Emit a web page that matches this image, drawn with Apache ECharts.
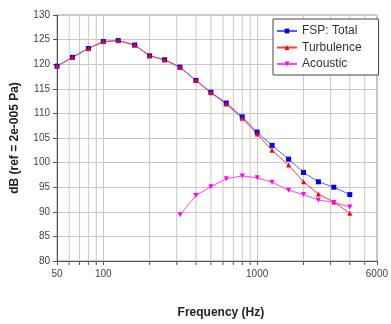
<!DOCTYPE html>
<html>
<head>
<meta charset="utf-8">
<script src="https://cdn.jsdelivr.net/npm/echarts@6/dist/echarts.min.js"></script>
<style>
html,body{margin:0;padding:0;background:#fff;}
#chart{width:391px;height:324px;}
</style>
</head>
<body>
<div id="chart"></div>
<script>
var freqs = [50, 63, 80, 100, 125, 160, 200, 250, 315, 400, 500, 630, 800, 1000, 1250, 1600, 2000, 2500, 3150, 4000];
var total = [119.6, 121.4, 123.2, 124.6, 124.8, 123.9, 121.7, 120.9, 119.4, 116.7, 114.3, 112.1, 109.3, 106.2, 103.5, 100.7, 98.0, 96.1, 95.0, 93.5];
var turbulence = [119.6, 121.4, 123.2, 124.6, 124.8, 123.9, 121.7, 120.9, 119.4, 116.7, 114.2, 111.9, 109.0, 105.8, 102.5, 99.5, 96.1, 93.6, 92.0, 89.7];
var acousticFreqs = [315, 400, 500, 630, 800, 1000, 1250, 1600, 2000, 2500, 3150, 4000];
var acoustic = [89.4, 93.3, 95.1, 96.7, 97.3, 96.9, 96.0, 94.4, 93.5, 92.4, 91.9, 91.0];
var minorGridFreqs = [60, 70, 80, 90, 200, 300, 400, 500, 600, 700, 800, 900, 2000, 3000, 4000, 5000];
var yMin = 80, yMax = 130;

function pairs(xs, ys) { return xs.map(function (x, i) { return [x, ys[i]]; }); }

var chart = echarts.init(document.getElementById('chart'), null, {renderer: 'canvas'});
chart.setOption({
  animation: false,
  backgroundColor: '#fff',
  grid: {left: 57, right: 8, top: 15, bottom: 60, show: true, borderColor: '#a0a0a0', borderWidth: 1, backgroundColor: 'transparent'},
  legend: {
    data: ['FSP: Total', 'Turbulence', 'Acoustic'],
    orient: 'vertical', left: 273, top: 19,
    padding: [6, 17, 5, 3], itemGap: 4.5, itemWidth: 20, itemHeight: 6,
    backgroundColor: '#fff', borderColor: '#444', borderWidth: 1,
    textStyle: {fontFamily: 'Liberation Sans, Arial, sans-serif', fontSize: 12, color: '#333', lineHeight: 12}
  },
  xAxis: {
    type: 'log', logBase: 10, min: 50, max: 6000, splitNumber: 2,
    name: 'Frequency (Hz)', nameLocation: 'middle', nameGap: 46,
    nameTextStyle: {fontFamily: 'Liberation Sans, Arial, sans-serif', fontSize: 12, fontWeight: 'bold', color: '#222', padding: [0, 0, 0, 8]},
    axisLine: {show: true, lineStyle: {color: '#555', width: 1}},
    axisTick: {show: true, inside: false, length: 4, lineStyle: {color: '#555'}},
    axisLabel: {fontFamily: 'Liberation Sans, Arial, sans-serif', fontSize: 10, color: '#444', margin: 8, showMinLabel: true, showMaxLabel: true,
      formatter: function (v) { return String(Math.round(v)); }},
    splitLine: {show: true, lineStyle: {color: '#c8c8c8', width: 1}},
    minorTick: {show: false}, minorSplitLine: {show: false}
  },
  yAxis: {
    type: 'value', min: yMin, max: yMax, interval: 5,
    name: 'dB (ref = 2e-005 Pa)', nameLocation: 'middle', nameGap: 36,
    nameTextStyle: {fontFamily: 'Liberation Sans, Arial, sans-serif', fontSize: 12, fontWeight: 'bold', color: '#222'},
    axisLine: {show: true, lineStyle: {color: '#555', width: 1}},
    axisTick: {show: true, inside: false, length: 4, lineStyle: {color: '#555'}},
    axisLabel: {fontFamily: 'Liberation Sans, Arial, sans-serif', fontSize: 10, color: '#444', margin: 7},
    splitLine: {show: true, lineStyle: {color: '#c8c8c8', width: 1}}
  },
  series: [
    {
      type: 'custom', z: 1, silent: true, clip: false,
      data: minorGridFreqs.map(function (f) { return [f]; }),
      encode: {x: 0},
      renderItem: function (params, api) {
        var f = api.value(0);
        var b = api.coord([f, yMin]);
        var t = api.coord([f, yMax]);
        return {type: 'group', children: [
          {type: 'line', shape: {x1: b[0], y1: b[1], x2: t[0], y2: t[1]}, style: {stroke: '#c8c8c8', lineWidth: 1}},
          {type: 'line', shape: {x1: b[0], y1: b[1], x2: b[0], y2: b[1] + 4}, style: {stroke: '#555', lineWidth: 1}}
        ]};
      }
    },
    {
      name: 'FSP: Total', type: 'line', data: pairs(freqs, total),
      symbol: 'rect', symbolSize: 5, showAllSymbol: true,
      itemStyle: {color: '#0000ff'}, lineStyle: {color: '#4d5dff', width: 1}
    },
    {
      name: 'Turbulence', type: 'line', data: pairs(freqs, turbulence),
      symbol: 'triangle', symbolSize: 5, showAllSymbol: true,
      itemStyle: {color: '#ff0000'}, lineStyle: {color: '#ff3c3c', width: 1}
    },
    {
      name: 'Acoustic', type: 'line', data: pairs(acousticFreqs, acoustic),
      symbol: 'triangle', symbolRotate: 180, symbolSize: 5, showAllSymbol: true,
      itemStyle: {color: '#ff00ff'}, lineStyle: {color: '#ff40ff', width: 1}
    }
  ]
});
</script>
</body>
</html>
